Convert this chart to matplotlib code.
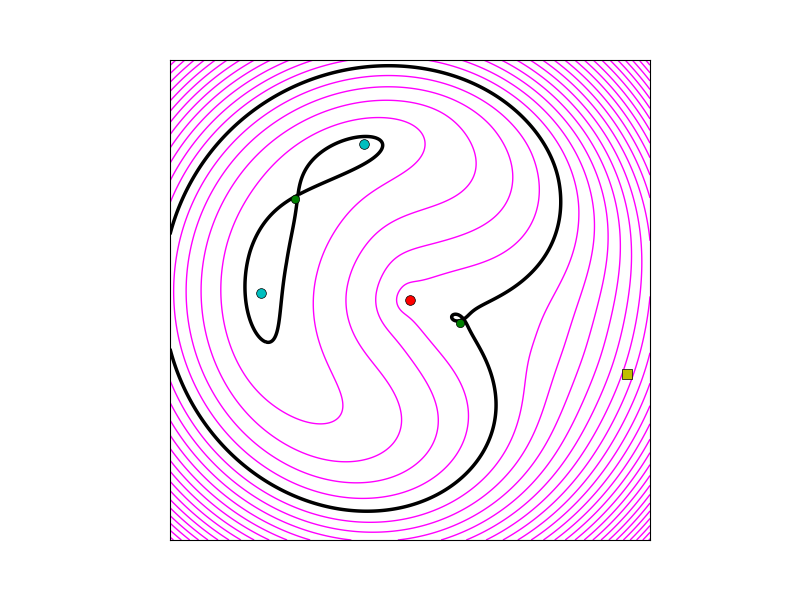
import numpy as np
import matplotlib
matplotlib.use("Agg")
import matplotlib.pyplot as plt

plt.rcParams['contour.negative_linestyle'] = 'solid'

# marked points, axis units (box spans -1..1, origin in the middle)
minima_x = [-0.19, -0.62]
minima_y = [0.65, 0.03]
saddle_x = [-0.48, 0.21]
saddle_y = [0.42, -0.095]
origin_x = [0.0]
origin_y = [0.0]
probe_x = [0.905]
probe_y = [-0.31]

# surface parameters
bowl_centre = (-0.1, 0.05)
bowl_a, bowl_p, bowl_off = 5.2, 3.6, -0.3
trench_depth = 5.3
trench_r, trench_sin, trench_sout = 0.72, 0.43, 0.40
trench_wind, trench_pinch = 0.07, 0.15   # upper arm: wider radius, steeper outer wall
trench_dir, trench_half, trench_soft, ridge_w = 163.0, 126.0, 20.0, 25.0
core_r = 0.06
well_depth = [0.65, 0.2]
well_sr = [0.085, 0.1]    # across the trench
well_st = [0.2, 0.26]     # along the trench
dip_h, dip_s = 0.15, 0.1
bump_x, bump_y, bump_h, bump_s = 0.175, -0.075, 0.1, 0.03

levels = np.arange(-4, 31)


def gauss(x, y, cx, cy, s):
    return np.exp(-((x - cx)**2 + (y - cy)**2) / (2 * s**2))


def surface(x, y):
    q = np.hypot(x - bowl_centre[0], y - bowl_centre[1])
    f = bowl_a * q**bowl_p + bowl_off
    r = np.hypot(x, y)
    th = np.degrees(np.arctan2(y, x))
    delta = (th - trench_dir + 180) % 360 - 180
    phi = np.abs(delta)
    depth = trench_depth / (1 + np.exp((phi - trench_half) / trench_soft))
    depth = depth * (1 - np.exp(-((180 - phi) / ridge_w)**2))
    w = 0.5 * (1 - np.tanh((delta + 40) / 30))
    rt = trench_r + trench_wind * w
    s = np.where(r < rt, trench_sin, trench_sout - trench_pinch * w)
    prof = np.exp(-(r - rt)**2 / (2 * s**2)) * r**2 / (r**2 + core_r**2)
    f = f - depth * prof
    for wx, wy, wd, sr, st in zip(minima_x, minima_y, well_depth, well_sr, well_st):
        n = np.hypot(wx, wy)
        dr = ((x - wx) * wx + (y - wy) * wy) / n
        dt = (-(x - wx) * wy + (y - wy) * wx) / n
        f = f - wd * np.exp(-dr**2 / (2 * sr**2) - dt**2 / (2 * st**2))
    f = f - dip_h * gauss(x, y, origin_x[0], origin_y[0], dip_s)
    f = f + bump_h * gauss(x, y, bump_x, bump_y, bump_s)
    return f


def critical_value(x, y, h=1e-4):
    # newton on the gradient, starting from the marked saddle
    x0, y0 = x, y
    for _ in range(40):
        fx = (surface(x + h, y) - surface(x - h, y)) / (2 * h)
        fy = (surface(x, y + h) - surface(x, y - h)) / (2 * h)
        fxx = (surface(x + h, y) - 2 * surface(x, y) + surface(x - h, y)) / h**2
        fyy = (surface(x, y + h) - 2 * surface(x, y) + surface(x, y - h)) / h**2
        fxy = (surface(x + h, y + h) - surface(x + h, y - h)
               - surface(x - h, y + h) + surface(x - h, y - h)) / (4 * h * h)
        det = fxx * fyy - fxy**2
        if det == 0:
            break
        dx = (fyy * fx - fxy * fy) / det
        dy = (fxx * fy - fxy * fx) / det
        step = np.hypot(dx, dy)
        if step > 0.02:
            dx, dy = dx * 0.02 / step, dy * 0.02 / step
        x, y = x - dx, y - dy
    if not np.isfinite(x) or np.hypot(x - x0, y - y0) > 0.12:
        x, y = x0, y0
    return surface(x, y)


xs = np.linspace(-1, 1, 500)
X, Y = np.meshgrid(xs, xs)
ref = critical_value(saddle_x[1], saddle_y[1])
Z = surface(X, Y) - ref
crit = sorted([critical_value(saddle_x[0], saddle_y[0]) - ref, 0.0])

fig = plt.figure(figsize=(8, 6), dpi=100)
ax = fig.add_subplot(111)
fig.subplots_adjust(left=0.125, right=0.9, bottom=0.1, top=0.9)
ax.contour(X, Y, Z, levels=levels, colors='#ff00ff', linewidths=1.0)
ax.contour(X, Y, Z, levels=crit, colors='k', linewidths=2.5)
ax.plot(minima_x, minima_y, 'o', color='c', mec='k', mew=0.5, ms=7)
ax.plot(saddle_x, saddle_y, 'o', color='g', mec='k', mew=0.5, ms=6)
ax.plot(origin_x, origin_y, 'o', color='r', mec='k', mew=0.5, ms=7)
ax.plot(probe_x, probe_y, 's', color='y', mec='k', mew=0.5, ms=7)
ax.set_xlim(-1, 1)
ax.set_ylim(-1, 1)
ax.set_aspect('equal')
ax.set_xticks([])
ax.set_yticks([])
fig.savefig('out.png')
